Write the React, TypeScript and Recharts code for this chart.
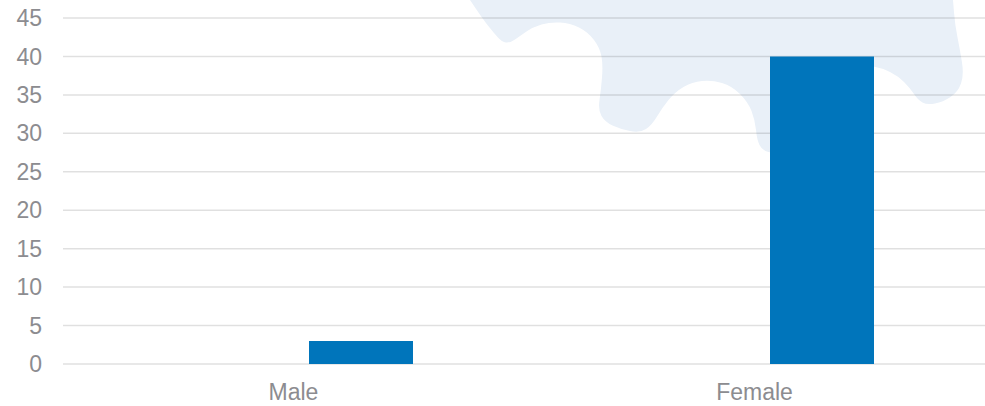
import React from 'react';
import { BarChart, Bar, XAxis, YAxis, CartesianGrid } from 'recharts';

const categories = ['Male', 'Female'];
const hiddenSeries = [0, 0];
const countSeries = [3, 40];
const yTicks = [0, 5, 10, 15, 20, 25, 30, 35, 40, 45];

const data = categories.map((c, i) => ({ name: c, hidden: hiddenSeries[i], count: countSeries[i] }));

const gearPts: [number, number][] = [
  [470, 0], [482, 18], [493, 32], [502, 42], [510, 43], [520, 36], [533, 27], [550, 22], [570, 23],
  [588, 32], [600, 48], [603, 65], [601, 90], [598, 110], [605, 122], [620, 129], [640, 133],
  [652, 125], [662, 108], [675, 92], [692, 82], [712, 80], [732, 86], [748, 102], [755, 120],
  [757, 140], [762, 150], [775, 154], [790, 150], [808, 140], [817, 125], [822, 100], [830, 80],
  [845, 68], [865, 65], [882, 68], [898, 76], [910, 88], [918, 100], [927, 105], [943, 102],
  [958, 92], [964, 75], [960, 50], [955, 25], [953, 0],
];

function smoothPath(pts: [number, number][]) {
  let d = `M${pts[0][0]},${pts[0][1]}`;
  for (let i = 1; i < pts.length - 1; i++) {
    const mx = (pts[i][0] + pts[i + 1][0]) / 2;
    const my = (pts[i][1] + pts[i + 1][1]) / 2;
    d += ` Q${pts[i][0]},${pts[i][1]} ${mx},${my}`;
  }
  const last = pts[pts.length - 1];
  d += ` L${last[0]},${last[1]} Z`;
  return d;
}

const textStyle = { fontFamily: '"Liberation Sans", Arial, sans-serif', fontSize: 23, fill: '#8c8c90' };

export default function App() {
  return (
    <div style={{ position: 'absolute', left: 0, top: 0, width: 985, height: 406, background: '#ffffff' }}>
      <svg width={985} height={406} style={{ position: 'absolute', left: 0, top: 0 }}>
        <path d={smoothPath(gearPts)} fill="#e9f0f8" />
      </svg>
      <div style={{ position: 'absolute', left: 0, top: 0 }}>
        <BarChart
          width={985}
          height={406}
          data={data}
          margin={{ top: 18, right: 0, bottom: 0, left: 0 }}
          barGap={30}
        >
          <CartesianGrid vertical={false} stroke="#000000" strokeOpacity={0.12} strokeWidth={1.5} />
          <XAxis
            dataKey="name"
            axisLine={false}
            tickLine={false}
            tickSize={0}
            tickMargin={20}
            height={42}
            tick={textStyle}
            interval={0}
          />
          <YAxis
            domain={[0, 45]}
            ticks={yTicks}
            axisLine={false}
            tickLine={false}
            tickSize={0}
            tickMargin={21}
            width={63}
            tick={textStyle}
            interval={0}
          />
          <Bar dataKey="hidden" fill="#0075bb" barSize={104} isAnimationActive={false} />
          <Bar dataKey="count" fill="#0075bb" barSize={104} isAnimationActive={false} />
        </BarChart>
      </div>
    </div>
  );
}
